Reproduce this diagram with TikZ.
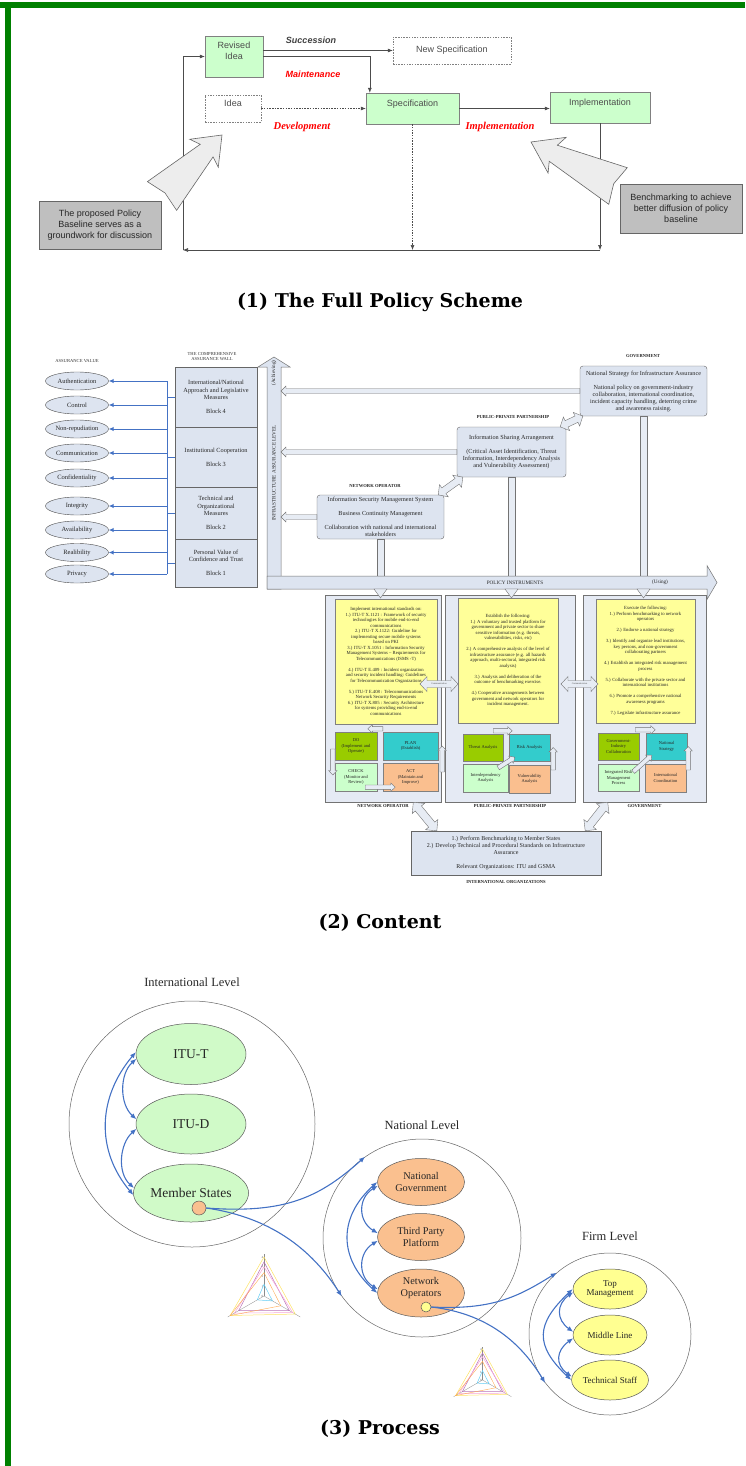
\documentclass[tikz,border=0pt]{standalone}
\usepackage{fontspec}
\setmainfont{Liberation Serif}
\setsansfont{Liberation Sans}
\newfontfamily\capfont{DejaVu Serif}
\usetikzlibrary{positioning,calc,arrows.meta,shapes.geometric}

\definecolor{framegreen}{RGB}{0,128,0}
\definecolor{boxgreen}{RGB}{204,255,204}
\definecolor{notegray}{RGB}{191,191,191}
\definecolor{wallfill}{RGB}{221,228,240}
\definecolor{panelfill}{RGB}{229,234,244}
\definecolor{notebg}{RGB}{255,255,153}
\definecolor{linkblue}{RGB}{68,114,196}
\definecolor{pdgreen}{RGB}{153,204,0}
\definecolor{pdteal}{RGB}{51,204,204}
\definecolor{pdlight}{RGB}{204,255,204}
\definecolor{pdorange}{RGB}{250,191,143}
\definecolor{lvlgreen}{RGB}{208,250,200}
\definecolor{lvlorange}{RGB}{250,192,143}
\definecolor{lvlyellow}{RGB}{255,255,145}

\newcommand{\fsz}[2]{\fontsize{#1}{#2}\selectfont}

\newcommand{\blockarrow}[6][]{%
  \coordinate (ba-t) at (#2);
  \coordinate (ba-p) at (#3);
  \coordinate (ba-h) at ($(ba-p)!#6!(ba-t)$);
  \draw[#1] ($(ba-t)!#4!90:(ba-p)$) -- ($(ba-h)!#4!90:(ba-p)$) -- ($(ba-h)!#5!90:(ba-p)$) -- (ba-p)
    -- ($(ba-h)!#5!-90:(ba-p)$) -- ($(ba-h)!#4!-90:(ba-p)$) -- ($(ba-t)!#4!-90:(ba-p)$) -- cycle;}

\newcommand{\dblarrow}[6][]{%
  \coordinate (da-a) at (#2);
  \coordinate (da-b) at (#3);
  \coordinate (da-ha) at ($(da-a)!#6!(da-b)$);
  \coordinate (da-hb) at ($(da-b)!#6!(da-a)$);
  \draw[#1] (da-a) -- ($(da-ha)!#5!90:(da-b)$) -- ($(da-ha)!#4!90:(da-b)$) -- ($(da-hb)!#4!90:(da-b)$)
    -- ($(da-hb)!#5!90:(da-b)$) -- (da-b) -- ($(da-hb)!#5!-90:(da-b)$) -- ($(da-hb)!#4!-90:(da-b)$)
    -- ($(da-ha)!#4!-90:(da-b)$) -- ($(da-ha)!#5!-90:(da-b)$) -- cycle;}

\newcommand{\bigpointer}[2]{%
  \coordinate (bg-t) at (#1);
  \coordinate (bg-p) at (#2);
  \draw[bigarrow] ($(bg-t)!20.5pt!90:(bg-p)$) -- ($(bg-t)!0.05!(bg-p)$) -- ($(bg-t)!20.5pt!-90:(bg-p)$)
    -- ($(bg-t)!0.744!(bg-p)!9pt!-90:(bg-p)$) -- ($(bg-t)!0.70!(bg-p)!20pt!-90:(bg-p)$) -- (bg-p)
    -- ($(bg-t)!0.70!(bg-p)!20pt!90:(bg-p)$) -- ($(bg-t)!0.744!(bg-p)!9pt!90:(bg-p)$) -- cycle;}

\newcommand{\radar}[3]{%
  \begin{scope}[shift={(#2)}]
    \foreach \ang in {90,210,330} \draw[black!45, line width=0.3pt] (0,0) -- (\ang:{4.3*#3});
    \draw[yellow!70!orange!60, line width=0.5pt] (90:{4*#3}) -- (210:{4*#3}) -- (330:{3.7*#3}) -- cycle;
    \draw[violet!55, line width=0.5pt] (90:{3.5*#3}) -- (210:{3*#3}) -- (330:{3*#3}) -- cycle;
    \draw[magenta!35, line width=0.5pt] (90:{3*#3}) -- (210:{3.5*#3}) -- (330:{3.4*#3}) -- cycle;
    \draw[orange!70, line width=0.4pt] (90:{2.4*#3}) -- (210:{4*#3}) -- (330:{2*#3}) -- cycle;
    \draw[cyan!60, line width=0.5pt] (90:{1.2*#3}) -- (210:{0.8*#3}) -- (330:{1*#3}) -- cycle;
    \foreach \k in {0,...,4}
      \node[anchor=east, inner sep=0.5pt, font=\fsz{3.2}{3.2}, text=black!60] (#1-\k) at (90:{\k*#3}) {\k};
  \end{scope}}

\tikzset{
  pbox/.style={draw=black!50, fill=boxgreen, font=\sffamily\fsz{9}{11}, text=black!70, align=center, inner sep=2pt},
  pdash/.style={draw=black!50, dash pattern=on 1.5pt off 1.2pt, fill=white, font=\sffamily\fsz{9}{11}, text=black!70, align=center, inner sep=2pt},
  notebox/.style={draw=black!60, fill=notegray, line width=0.8pt, font=\sffamily\fsz{9}{11}, text=black!85, align=center},
  flow/.style={draw=black!70, line width=0.6pt, -{Latex[length=5pt,width=4pt]}},
  flowlbl/.style={font=\sffamily\bfseries\itshape\fsz{9}{11}, text=black!75},
  redlbl/.style={font=\bfseries\itshape\fsz{10.5}{12}, text=red},
  bigarrow/.style={draw=black!60, fill=black!7, line width=0.6pt, line join=miter},
  sectioncap/.style={font=\capfont\bfseries\fsz{19}{23}},
  tinycap/.style={font=\fsz{4.6}{5}, text=black!80, inner sep=0, align=center},
  valell/.style={ellipse, draw=black!70, fill=wallfill, minimum width=63pt, minimum height=18pt, inner sep=0, font=\fsz{6.5}{7.5}, text=black!85},
  wallblk/.style={draw=black!60, fill=wallfill, minimum width=82pt, align=center, font=\fsz{6.3}{7.3}, text=black!85, inner sep=1pt},
  valline/.style={draw=linkblue, line width=1pt},
  valarrow/.style={valline, -{Latex[length=5pt,width=4.5pt]}},
  axisarrow/.style={draw=black!55, fill=wallfill, line width=0.5pt},
  axislbl/.style={font=\fsz{5.2}{6}, text=black!85, inner sep=0},
  stage/.style={draw=black!60, fill=wallfill, rounded corners=3pt, align=center, font=\fsz{6.2}{7}, text=black!85, inner sep=1pt},
  stagelbl/.style={font=\bfseries\fsz{4.6}{5}, text=black!85, inner sep=0},
  hollow/.style={draw=black!55, fill=wallfill!70!white, line width=0.4pt},
  panel/.style={draw=black!55, fill=panelfill, line width=0.6pt},
  note/.style={draw=black!50, fill=notebg, align=center, font=\fsz{4.7}{5.5}, text=black!85, inner sep=1pt},
  sq/.style={draw=black!50, align=center, font=\fsz{4.5}{5.2}, text=black!85, inner sep=0.5pt},
  commlbl/.style={font=\fsz{2.4}{2.6}, text=black!70, inner sep=0},
  lvlring/.style={circle, draw=black!60, line width=0.5pt},
  levellbl/.style={font=\fsz{12.5}{14}, text=black!85, inner sep=0},
  actor/.style={ellipse, draw=black!65, line width=0.5pt, align=center, text=black!85, inner sep=0},
  tinydot/.style={circle, draw=black!65, line width=0.5pt, minimum size=14pt, inner sep=0},
  linkarrow/.style={draw=linkblue, line width=1.1pt, {Latex[length=6pt,width=5pt]}-{Latex[length=6pt,width=5pt]}},
  linkarrow1/.style={draw=linkblue, line width=1.1pt, -{Latex[length=6pt,width=5pt]}}
}

\begin{document}
\begin{tikzpicture}[x=1pt, y=-1pt]
    \useasboundingbox (0,0) rectangle (745,1466);
    \fill[framegreen] (0,2.5) rectangle (745,8.3);
    \fill[framegreen] (5,2.5) rectangle (10.5,1466);

    \node[pbox, minimum width=58pt, minimum height=41pt] (revised) at (234,56.5) {Revised\\Idea\\\mbox{}};
    \node[pdash, minimum width=118pt, minimum height=27pt] (newspec) at (452,50.5) {New Specification};
    \node[pdash, minimum width=56pt, minimum height=27pt] (idea) at (233,108.5) {Idea\\\mbox{}};
    \node[pbox, minimum width=93pt, minimum height=31pt] (spec) at (412.5,108.5) {Specification\\\mbox{}};
    \node[pbox, minimum width=100pt, minimum height=31pt] (impl) at (600,107.5) {Implementation\\\mbox{}};
    \node[notebox, minimum width=122pt, minimum height=48pt] (baseline) at (100,225) {The proposed Policy\\Baseline serves as a\\groundwork for discussion};
    \node[notebox, minimum width=122pt, minimum height=49pt] (bench) at (681,208.5) {Benchmarking to achieve\\better diffusion of policy\\baseline};

    \node[flowlbl] (succ) at (311,40) {Succession};
    \node[flowlbl, text=red] (maint) at (313,74) {Maintenance};
    \node[redlbl] (devel) at (302,127) {Development};
    \node[redlbl] (impllbl) at (500,127) {Implementation};

    \coordinate (loopl) at (183,250);
    \draw[flow] (revised.east |- newspec.west) -- (newspec.west);
    \draw[flow] (revised.east) -| ([xshift=4pt]spec.north west);
    \draw[flow, dash pattern=on 1.5pt off 1.2pt] (idea.east) -- (idea.east -| spec.west);
    \draw[flow] (spec.east) -- (spec.east -| impl.west);
    \draw[flow, dash pattern=on 1.5pt off 1.2pt] (spec.south) -- (spec.south |- loopl);
    \draw[flow] (impl.south) -- (impl.south |- loopl);
    \draw[flow] (impl.south |- loopl) -- (loopl);
    \draw[flow] (loopl) |- (revised.west);

    \bigpointer{162,196}{222,135}
    \bigpointer{618,186}{531,142}

    \node[sectioncap] (cap1) at (380,302) {(1) The Full Policy Scheme};

    \node[tinycap] (avlbl) at (77,361) {ASSURANCE VALUE};
    \node[tinycap] (walllbl) at (212,356.5) {THE COMPREHENSIVE\\ASSURANCE WALL};

    \foreach \nm/\tx/\yy in {auth/Authentication/381, ctrl/Control/405, nonrep/Non-repudiation/429,
        comm/Communication/453, conf/Confidentiality/478, integ/Integrity/506,
        avail/Availability/530, reli/Realibility/552.5, priv/Privacy/574}
      \node[valell] (\nm) at (77,\yy) {\tx};

    \node[wallblk, minimum height=60pt] (blk4) at (216,397) {International/National\\Approach and Legislative\\Measures\\[7pt]Block 4};
    \node[wallblk, minimum height=60pt] (blk3) at (216,457) {Institutional Cooperation\\[7pt]Block 3};
    \node[wallblk, minimum height=52pt] (blk2) at (216,513) {Technical and\\Organizational\\Measures\\[7pt]Block 2};
    \node[wallblk, minimum height=48pt] (blk1) at (216,563) {Personal Value of\\Confidence and Trust\\[7pt]Block 1};

    \coordinate (bus) at (167,0);
    \draw[valline] (bus |- auth) -- (bus |- priv);
    \foreach \nm in {auth,ctrl,nonrep,comm,conf,integ,avail,reli,priv}
      \draw[valarrow] (bus |- \nm) -- (\nm.east);
    \foreach \b in {blk1,blk2,blk3,blk4}
      \draw[valline] (bus |- \b.west) -- (\b.west);

    \node[stage, minimum width=127pt, minimum height=50pt] (govbox) at (643.5,391) {National Strategy for Infrastructure Assurance\\[7pt]National policy on government-industry\\collaboration, international coordination,\\incident capacity handling, deterring crime\\and awareness raising.};
    \node[stage, minimum width=109pt, minimum height=50pt] (pppbox) at (511.5,452) {Information Sharing Arrangement\\[7pt](Critical Asset Identification, Threat\\Information, Interdependency Analysis\\and Vulnerability Assessment)};
    \node[stage, minimum width=127pt, minimum height=44pt] (nobox) at (380.5,517) {Information Security Management System\\[7pt]Business Continuity Management\\[7pt]Collaboration with national and international\\stakeholders};

    \node[stagelbl] (govlbl) at (643,356) {GOVERNMENT};
    \node[stagelbl] (ppplbl) at (513,417) {PUBLIC-PRIVATE PARTNERSHIP};
    \node[stagelbl] (nolbl) at (375,486) {NETWORK OPERATOR};

    \coordinate (haxis) at (0,576);
    \foreach \b in {nobox,pppbox,govbox}
      \draw[hollow] ([xshift=-3.5pt]\b.south) rectangle ([xshift=3.5pt]\b.south |- haxis);

    \blockarrow[axisarrow]{274,589}{274,357}{7pt}{16pt}{10pt}
    \blockarrow[axisarrow]{267,582.5}{717,582.5}{6.5pt}{17pt}{10pt}
    \node[axislbl, rotate=90] (ialvl) at (274,473) {INFRASTRUCTURE ASSURANCE LEVEL};
    \node[axislbl, rotate=90] (achv) at (274,373) {(Achieving)};
    \node[axislbl] (polinst) at (515,582.5) {POLICY INSTRUMENTS};
    \node[axislbl] (using) at (660,582.5) {(Using)};

    \coordinate (vaxis) at (281,0);
    \foreach \b in {govbox,pppbox,nobox}
      {\blockarrow[hollow]{\b.west}{vaxis |- \b.west}{2.5pt}{5pt}{5pt}}
    \dblarrow[hollow]{[xshift=-6pt]nobox.north east}{[xshift=6pt]pppbox.south west}{3.5pt}{7.5pt}{7pt}
    \dblarrow[hollow]{[xshift=-6pt]pppbox.north east}{[xshift=3pt]govbox.south west}{3.5pt}{7.5pt}{7pt}

    \node[panel, minimum width=116pt, minimum height=207pt] (nopanel) at (383,698.5) {};
    \node[panel, minimum width=130pt, minimum height=207pt] (ppppanel) at (510,698.5) {};
    \node[panel, minimum width=123pt, minimum height=207pt] (govpanel) at (644.5,698.5) {};
    \foreach \b in {nobox,pppbox,govbox}
      \draw[hollow] (\b.south |- 0,589) ++(-6.5,0) -- ++(13,0) -- ++(-6.5,9) -- cycle;

    \node[note, minimum width=102pt, minimum height=125pt] (nonote) at (386,661.5) {Implement international standards on:\\1.) ITU-T X.1121 : Framework of security\\technologies for mobile end-to-end\\communications\\2.) ITU-T X.1122: Guideline for\\implementing secure mobile systems\\based on PKI\\3.) ITU-T X.1051 : Information Security\\Management Systems -- Requirements for\\Telecommunications (ISMS -T)\\[5.5pt]4.) ITU-T E.409 : Incident organization\\and security incident handling: Guidelines\\for Telecommunication Organizations\\[5.5pt]5.) ITU-T E.408 : Telecommunications\\Network Security Requirements\\6.) ITU-T X.805 : Security Architecture\\for systems providing end-to-end\\communications};
    \node[note, minimum width=100pt, minimum height=125pt] (pppnote) at (508,660.5) {Establish the following:\\1.) A voluntary and trusted platform for\\government and private sector to share\\sensitive information (e.g. threats,\\vulnerabilities, risks, etc)\\[5.5pt]2.) A comprehensive analysis of the level of\\infrastructure assurance (e.g. all hazards\\approach, multi-sectoral, integrated risk\\analysis)\\[5.5pt]3.) Analysis and deliberation of the\\outcome of benchmarking exercise.\\[5.5pt]4.) Cooperative arrangements between\\government and network operators for\\incident management.};
    \node[note, minimum width=99pt, minimum height=124pt] (govnote) at (645.5,661) {Execute the following:\\1.) Perform benchmarking to network\\operators\\[5.5pt]2.) Endorse a national strategy\\[5.5pt]3.) Identify and organize lead institutions,\\key persons, and non-government\\collaborating partners\\[5.5pt]4.) Establish an integrated risk management\\process\\[5.5pt]5.) Collaborate with the private sector and\\international institutions\\[5.5pt]6.) Promote a comprehensive national\\awareness programs\\[5.5pt]7.) Legislate infrastructure assurance};

    \node[sq, fill=pdgreen, minimum width=42pt, minimum height=28pt] (do) at (356,746) {DO\\(Implement and\\Operate)};
    \node[sq, fill=pdteal, minimum width=55pt, minimum height=28pt] (plan) at (410.5,746) {PLAN\\(Establish)};
    \node[sq, fill=pdlight, minimum width=42pt, minimum height=28pt] (check) at (356,777) {CHECK\\(Monitor and\\Review)};
    \node[sq, fill=pdorange, minimum width=55pt, minimum height=28pt] (act) at (410.5,777) {ACT\\(Maintain and\\Improve)};
    \blockarrow[hollow]{[yshift=3pt]plan.north west}{[xshift=-15pt,yshift=3pt]plan.north west}{2.2pt}{4.2pt}{4.5pt}
    \blockarrow[hollow]{[xshift=-2pt,yshift=-3pt]do.west}{[xshift=-2pt,yshift=2pt]check.west}{2.2pt}{4.2pt}{4.5pt}
    \blockarrow[hollow]{[xshift=-12pt,yshift=4pt]check.south east}{[xshift=18pt,yshift=4pt]check.south east}{2.2pt}{4.2pt}{4.5pt}
    \blockarrow[hollow]{[xshift=4pt,yshift=5pt]act.east}{[xshift=4pt]plan.east}{2.2pt}{4.2pt}{4.5pt}

    \node[sq, fill=pdgreen, minimum width=40pt, minimum height=27pt] (threat) at (483,747.5) {Threat Analysis};
    \node[sq, fill=pdteal, minimum width=41pt, minimum height=27pt] (risk) at (529.5,747.5) {Risk Analysis};
    \node[sq, fill=pdlight, minimum width=45pt, minimum height=28pt] (interdep) at (485.5,778) {Interdependency\\Analysis};
    \node[sq, fill=pdorange, minimum width=41pt, minimum height=28pt] (vuln) at (529.5,779) {Vulnerability\\Analysis};
    \blockarrow[hollow]{[xshift=-10pt,yshift=3pt]threat.north east}{[xshift=9pt,yshift=3pt]threat.north east}{2.2pt}{4.2pt}{4.5pt}
    \blockarrow[hollow]{[xshift=-10pt,yshift=-4pt]interdep.north east}{[xshift=6pt,yshift=4pt]risk.south west}{2.2pt}{4.2pt}{4.5pt}
    \blockarrow[hollow]{[xshift=3pt,yshift=9pt]vuln.east}{[xshift=3pt]risk.east}{2.2pt}{4.2pt}{4.5pt}

    \node[sq, fill=pdgreen, minimum width=41pt, minimum height=27pt] (gic) at (618.5,746.5) {Government-\\Industry\\Collaboration};
    \node[sq, fill=pdteal, minimum width=41pt, minimum height=27pt] (natstrat) at (666.5,746.5) {National\\Strategy};
    \node[sq, fill=pdlight, minimum width=41pt, minimum height=27pt] (irmp) at (618.5,777.5) {Integrated Risk\\Management\\Process};
    \node[sq, fill=pdorange, minimum width=41pt, minimum height=28pt] (intcoord) at (665.5,778) {International\\Coordination};
    \blockarrow[hollow]{[xshift=-4pt,yshift=3pt]gic.north east}{[xshift=16pt,yshift=3pt]gic.north east}{2.2pt}{4.2pt}{4.5pt}
    \blockarrow[hollow]{[xshift=-6pt,yshift=-8pt]irmp.north east}{[xshift=6pt,yshift=5pt]natstrat.south west}{2.2pt}{4.2pt}{4.5pt}
    \blockarrow[hollow]{[xshift=2pt,yshift=8pt]intcoord.east}{[xshift=1pt]natstrat.east}{2.2pt}{4.2pt}{4.5pt}

    \coordinate (comm1a) at (420,684);
    \coordinate (comm1b) at (458,684);
    \coordinate (comm2a) at (561,684);
    \coordinate (comm2b) at (598,684);
    \dblarrow[hollow]{comm1a}{comm1b}{3.5pt}{7.5pt}{7pt}
    \dblarrow[hollow]{comm2a}{comm2b}{3.5pt}{7.5pt}{7pt}
    \node[commlbl] (comm1lbl) at ($(comm1a)!0.5!(comm1b)$) {Communication};
    \node[commlbl] (comm2lbl) at ($(comm2a)!0.5!(comm2b)$) {Communication};

    \node[stagelbl, below=2pt of nopanel] (nopanellbl) {NETWORK OPERATOR};
    \node[stagelbl, below=2pt of ppppanel] (ppppanellbl) {PUBLIC-PRIVATE PARTNERSHIP};
    \node[stagelbl, below=2pt of govpanel] (govpanellbl) {GOVERNMENT};

    \node[stage, rounded corners=0pt, minimum width=190pt, minimum height=44pt, font=\fsz{6}{7}] (intorg) at (506,853) {1.) Perform Benchmarking to Member States\\2.) Develop Technical and Procedural Standards on Infrastructure\\Assurance\\[7pt]Relevant Organizations: ITU and GSMA};
    \node[stagelbl, below=5pt of intorg] (intorglbl) {INTERNATIONAL ORGANIZATIONS};
    \dblarrow[hollow]{[xshift=-28pt]nopanel.south east}{[xshift=26pt]intorg.north west}{4pt}{8pt}{8pt}
    \dblarrow[hollow]{[xshift=25pt]govpanel.south west}{[xshift=-16pt]intorg.north east}{4pt}{8pt}{8pt}

    \node[sectioncap] (cap2) at (380,923) {(2) Content};

    \node[lvlring, minimum size=246pt] (intlevel) at (192,1124) {};
    \node[levellbl, above=14pt of intlevel] (intlbl) {International Level};
    \node[actor, fill=lvlgreen, minimum width=110pt, minimum height=61pt, font=\fsz{13.5}{15}] (itut) at (191,1054) {ITU-T};
    \node[actor, fill=lvlgreen, minimum width=110pt, minimum height=60pt, font=\fsz{13.5}{15}] (itud) at (191,1124) {ITU-D};
    \node[actor, fill=lvlgreen, minimum width=110pt, minimum height=58pt, font=\fsz{13.5}{15}] (member) at (191,1193) {Member States};
    \node[tinydot, fill=lvlorange] (memberdot) at (199,1208) {};

    \node[lvlring, minimum size=198pt] (natlevel) at (422,1238) {};
    \node[levellbl, above=9pt of natlevel] (natlbl) {National Level};
    \node[actor, fill=lvlorange, minimum width=87pt, minimum height=47pt, font=\fsz{10.3}{11.6}] (natgov) at (421,1182) {National\\Government};
    \node[actor, fill=lvlorange, minimum width=87pt, minimum height=47pt, font=\fsz{10.3}{11.6}] (thirdp) at (421,1237) {Third Party\\Platform};
    \node[actor, fill=lvlorange, minimum width=87pt, minimum height=48pt, font=\fsz{10.3}{11.6}] (netop) at (421,1293) {Network\\Operators\\\mbox{}};
    \node[tinydot, fill=lvlyellow, minimum size=10pt] (netopdot) at (426,1307) {};

    \node[lvlring, minimum size=162pt] (firmlevel) at (610,1334) {};
    \node[levellbl, above=12pt of firmlevel] (firmlbl) {Firm Level};
    \node[actor, fill=lvlyellow, minimum width=74pt, minimum height=40pt, font=\fsz{9}{9.5}] (topm) at (610,1289) {Top\\Management};
    \node[actor, fill=lvlyellow, minimum width=74pt, minimum height=40pt, font=\fsz{9}{9.5}] (midl) at (610,1335) {Middle Line};
    \node[actor, fill=lvlyellow, minimum width=74pt, minimum height=40pt, font=\fsz{9}{9.5}] (techs) at (610,1380) {Technical Staff};

    \draw[linkarrow] (itut.185) .. controls +(-17,15) and +(-17,-15) .. (itud.175);
    \draw[linkarrow] (itud.185) .. controls +(-17,15) and +(-17,-15) .. (member.175);
    \draw[linkarrow] (itut.178) .. controls +(-38,45) and +(-38,-45) .. (member.182);
    \draw[linkarrow] (natgov.185) .. controls +(-20,12) and +(-20,-12) .. (thirdp.175);
    \draw[linkarrow] (thirdp.185) .. controls +(-20,12) and +(-20,-12) .. (netop.175);
    \draw[linkarrow] (natgov.180) .. controls +(-39,35) and +(-39,-35) .. (netop.180);
    \draw[linkarrow] (topm.185) .. controls +(-17,12) and +(-17,-12) .. (midl.175);
    \draw[linkarrow] (midl.185) .. controls +(-17,12) and +(-17,-12) .. (techs.175);
    \draw[linkarrow] (topm.180) .. controls +(-37,35) and +(-37,-35) .. (techs.180);

    \draw[linkarrow1] (memberdot.east) .. controls +(80,6) and +(-45,40) .. (natlevel.125);
    \draw[linkarrow1] (memberdot.east) .. controls +(55,8) and +(-35,-55) .. (natlevel.216);
    \draw[linkarrow1] (netopdot.east) .. controls +(60,3) and +(-40,25) .. (firmlevel.131);
    \draw[linkarrow1] (netopdot.east) .. controls +(45,5) and +(-30,-50) .. (firmlevel.217);

    \radar{rada}{264,1296}{9.75pt}
    \radar{radb}{482.5,1380}{7.75pt}

    \node[sectioncap] (cap3) at (380,1429) {(3) Process};
\end{tikzpicture}
\end{document}
